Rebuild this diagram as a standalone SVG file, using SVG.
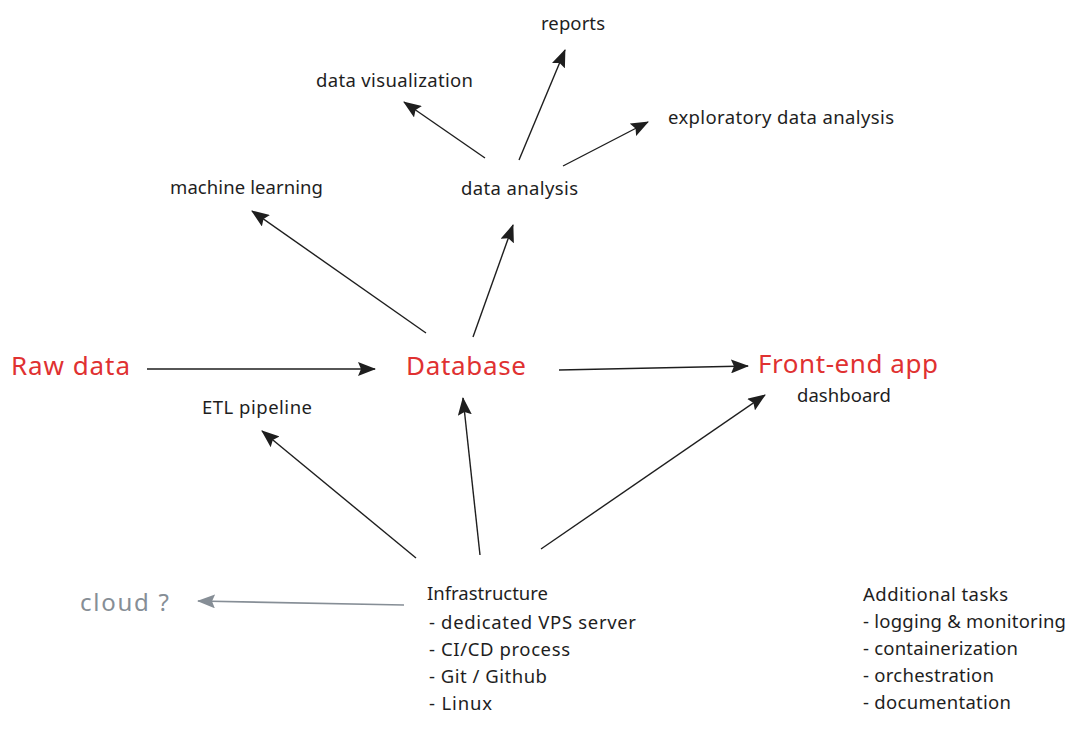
<svg xmlns="http://www.w3.org/2000/svg" width="1077" height="753" viewBox="0 0 1077 753">
<defs>
<style>
text{font-family:"Noto Sans","Open Sans",sans-serif;fill:#1e1e1e;}
.s{font-size:18.5px;}
.big{font-size:26px;fill:#e03131;}
.gray{font-size:24px;fill:#868e96;}
.c{stroke:#1e1e1e;stroke-width:1.4;fill:none;marker-end:url(#ah);}
.cg{stroke:#868e96;stroke-width:1.6;fill:none;marker-end:url(#ahg);}
</style>
<marker id="ah" viewBox="0 0 18 14" refX="17" refY="7" markerWidth="18" markerHeight="14" markerUnits="userSpaceOnUse" orient="auto">
<path d="M0,0 L18,7 L0,14 L3,7 Z" fill="#1e1e1e"/>
</marker>
<marker id="ahg" viewBox="0 0 18 14" refX="17" refY="7" markerWidth="18" markerHeight="14" markerUnits="userSpaceOnUse" orient="auto">
<path d="M0,0 L18,7 L0,14 L3,7 Z" fill="#868e96"/>
</marker>
</defs>
<rect width="1077" height="753" fill="#ffffff"/>
<g id="connectors">
<path class="c" d="M147,369 L375,369"/>
<path class="c" d="M559,370 L748,366"/>
<path class="c" d="M426,333 L252,211"/>
<path class="c" d="M473,337 L513,225"/>
<path class="c" d="M485,158 L404,102"/>
<path class="c" d="M519,160 L565,50"/>
<path class="c" d="M563,166 L648,122"/>
<path class="c" d="M416,558 L262,431"/>
<path class="c" d="M480,555 L463,398"/>
<path class="c" d="M541,549 L765,395"/>
<path class="cg" d="M404,605 L198,601"/>
</g>
<g id="reports"><text class="s" x="541" y="30" textLength="64">reports</text></g>
<g id="data-visualization"><text class="s" x="316" y="87" textLength="157">data visualization</text></g>
<g id="exploratory-data-analysis"><text class="s" x="668" y="124" textLength="226">exploratory data analysis</text></g>
<g id="machine-learning"><text class="s" x="170" y="194" textLength="153">machine learning</text></g>
<g id="data-analysis"><text class="s" x="461" y="195" textLength="117">data analysis</text></g>
<g id="raw-data"><text class="big" x="11" y="375" textLength="119">Raw data</text></g>
<g id="database"><text class="big" x="406" y="375" textLength="120">Database</text></g>
<g id="front-end-app"><text class="big" x="758" y="373" textLength="180">Front-end app</text><text class="s" x="797" y="402" textLength="94">dashboard</text></g>
<g id="etl-pipeline"><text class="s" x="202" y="414" textLength="110">ETL pipeline</text></g>
<g id="cloud"><text class="gray" x="80" y="611" textLength="89">cloud ?</text></g>
<g id="infrastructure">
<text class="s" x="427" y="600" textLength="121">Infrastructure</text>
<text class="s" x="429" y="629" textLength="207">- dedicated VPS server</text>
<text class="s" x="429" y="656" textLength="141">- CI/CD process</text>
<text class="s" x="429" y="683" textLength="118">- Git / Github</text>
<text class="s" x="429" y="710" textLength="63">- Linux</text>
</g>
<g id="additional-tasks">
<text class="s" x="863" y="601" textLength="145">Additional tasks</text>
<text class="s" x="863" y="628" textLength="203">- logging &amp; monitoring</text>
<text class="s" x="863" y="655" textLength="155">- containerization</text>
<text class="s" x="863" y="682" textLength="131">- orchestration</text>
<text class="s" x="863" y="709" textLength="148">- documentation</text>
</g>
</svg>
